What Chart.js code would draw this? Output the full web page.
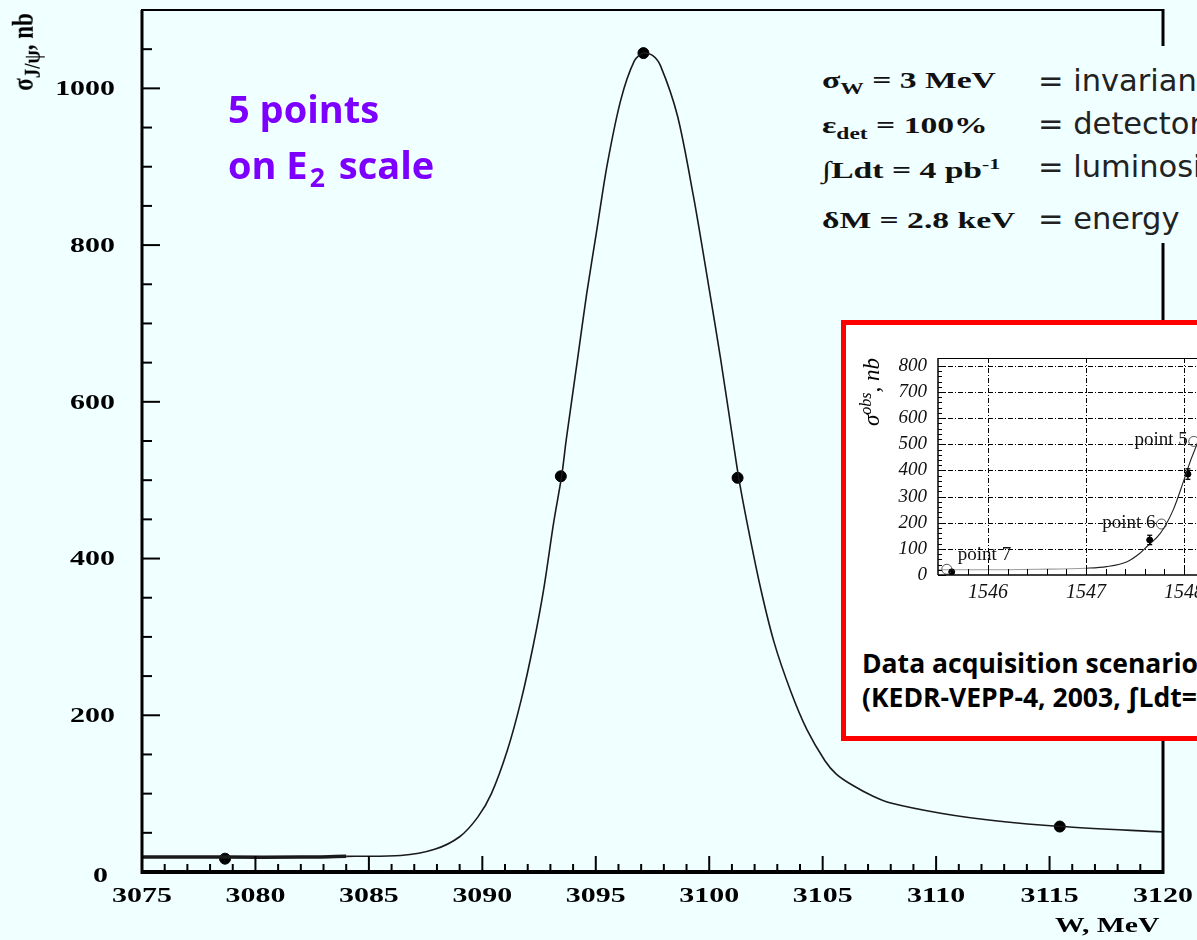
<!DOCTYPE html>
<html lang="en">
<head>
<meta charset="UTF-8" />
<style>
  html, body { margin: 0; padding: 0; }
  body { width: 1197px; height: 940px; overflow: hidden; position: relative; background: #f0ffff; }
  canvas { position: absolute; left: 0; top: 0; }
  sub, sup { line-height: 0; }
  #ytitle { position: absolute; left: -26px; top: 39px; width: 100px; height: 26px; line-height: 26px; text-align: center;
    font: bold 23px "Liberation Serif", serif; transform: rotate(-90deg) scaleY(1.25); white-space: nowrap; }
  #xtitle { position: absolute; left: 1055px; top: 912px; line-height: 26px; font: bold 22px "Liberation Serif", serif;
    transform: scaleX(1.35); transform-origin: left center; white-space: nowrap; }
  #purple { position: absolute; left: 228px; top: 80px; font: bold 38px "Open Sans", sans-serif; line-height: 56px; color: #7d00ff; }
  #purple sub { font-size: 0.7em; vertical-align: -0.3em; padding: 0 4px 0 2px; }
  #notes { position: absolute; left: 805px; top: 46px; width: 392px; height: 197px; background: #f0ffff; overflow: hidden; }
  .math { position: absolute; left: 17px; font: bold 24px "Liberation Serif", serif; line-height: 24px; color: #111;
    transform: scaleX(1.4); transform-origin: left center; white-space: nowrap; }
  .math sub { font-size: 0.7em; vertical-align: -0.35em; }
  .math sup { font-size: 0.65em; vertical-align: 0.55em; }
  .word { position: absolute; left: 233px; font: 30.5px "DejaVu Sans", sans-serif; line-height: 30px; color: #222; white-space: nowrap; }
  #inset { position: absolute; left: 841px; top: 320px; width: 600px; height: 421px; box-sizing: border-box;
    border: 5px solid #ff0000; background: #ffffff; }
  #inset canvas { left: 0; top: 0; }
  #itytle { position: absolute; left: -24px; top: 54px; width: 100px; height: 26px; line-height: 26px; text-align: center;
    font: italic 23px "Liberation Serif", serif; transform: rotate(-90deg); white-space: nowrap; }
  #itytle sup { font-size: 0.7em; vertical-align: 0.5em; }
  #caption { position: absolute; left: 16px; top: 321px; font: bold 26.5px "Open Sans", sans-serif; line-height: 34px; color: #000; white-space: nowrap; }
</style>
</head>
<body>
<canvas id="mainChart" width="1197" height="940"></canvas>

<div id="ytitle">σ<sub>J/ψ</sub>, nb</div>
<div id="xtitle">W, MeV</div>
<div id="purple">5 points<br>on E<sub>2</sub> scale</div>

<div id="notes">
  <div class="math" style="top:22px">σ<sub>W</sub> = 3 MeV</div>
  <div class="word" style="top:20px">= invariant</div>
  <div class="math" style="top:67px">ε<sub>det</sub> = 100%</div>
  <div class="word" style="top:63px">= detector</div>
  <div class="math" style="top:112px">∫Ldt = 4 pb<sup>-1</sup></div>
  <div class="word" style="top:106px">= luminosity</div>
  <div class="math" style="top:162px">δM = 2.8 keV</div>
  <div class="word" style="top:158px">= energy</div>
</div>

<div id="inset">
  <canvas id="insetChart" width="560" height="290"></canvas>
  <div id="itytle">σ<sup>obs</sup>, nb</div>
  <div id="caption">Data acquisition scenario<br>(KEDR-VEPP-4, 2003, ∫Ldt=</div>
</div>

<script src="https://cdn.jsdelivr.net/npm/chart.js@4.4.0/dist/chart.umd.min.js"></script>
<script>
  // main plot: smooth resonance curve (W in MeV, sigma in nb)
  var curveW = [3075, 3078.7, 3082, 3084, 3086.4, 3087.9, 3089.0, 3089.8, 3090.4, 3091.1, 3091.7, 3092.25, 3092.7, 3093.15,
    3093.5, 3093.7, 3094.2, 3094.6, 3095.05, 3095.5, 3096.1, 3096.7, 3097.1, 3097.5, 3097.85, 3098.6, 3099.3, 3099.9,
    3100.5, 3101.05, 3101.3, 3101.7, 3102.25, 3102.85, 3103.6, 3104.3, 3105.1, 3105.6, 3106.3, 3107.2, 3108.0, 3110.2,
    3112.7, 3115.5, 3120];
  var curveSigma = [19, 19, 19, 20, 21, 29, 45, 70, 100, 155, 218, 290, 360, 447,
    506, 552, 655, 738, 820, 902, 985, 1035, 1045, 1042, 1029, 965, 863, 761,
    655, 550, 503, 441, 364, 294, 230, 182, 142, 125, 111, 97, 88, 75,
    65, 58, 51];

  // the 5 scan points
  var scanW = [3078.66, 3093.46, 3097.1, 3101.25, 3115.45];
  var scanSigma = [17, 505, 1045, 503, 58];

  var xTickLabels = ["3075", "3080", "3085", "3090", "3095", "3100", "3105", "3110", "3115", "3120"];
  var yTickLabels = ["0", "200", "400", "600", "800", "1000"];

  // inset (KEDR data, E in MeV)
  var insetCurveE = [1545.49, 1546, 1546.5, 1547, 1547.21, 1547.42, 1547.55, 1547.62, 1547.76, 1547.89, 1548.0, 1548.07, 1548.13, 1548.16];
  var insetCurveSigma = [20, 20, 22, 26, 32, 51, 83, 108, 160, 249, 364, 441, 498, 530];
  var insetOpenE = [1545.58, 1547.77, 1548.1];
  var insetOpenSigma = [22, 195, 511];
  var insetOpenNames = ["point 7", "point 6", "point 5"];
  var insetMeasE = [1545.63, 1547.65, 1548.04];
  var insetMeasSigma = [12, 134, 386];
  var insetMeasErr = [8, 18, 20];
  var insetXTickLabels = ["1546", "1547", "1548", "1549"];
  var insetYTickLabels = ["0", "100", "200", "300", "400", "500", "600", "700", "800"];

  function pts(xs, ys) {
    return xs.map(function (v, i) { return { x: v, y: ys[i] }; });
  }
  function line(ctx, x1, y1, x2, y2) {
    ctx.beginPath(); ctx.moveTo(x1, y1); ctx.lineTo(x2, y2); ctx.stroke();
  }

  // frame, inward ticks and stretched serif labels, like the ROOT original
  var mainFrame = {
    id: "mainFrame",
    afterDraw: function (chart) {
      var ctx = chart.ctx, a = chart.chartArea, x = chart.scales.x, y = chart.scales.y;
      ctx.save();
      ctx.strokeStyle = "#000";
      ctx.lineWidth = 2;
      y.ticks.forEach(function (t) {
        if (t.value % 50 !== 0) return;
        var py = y.getPixelForValue(t.value);
        line(ctx, a.left, py, a.left + (t.value % 200 === 0 ? 18 : 10), py);
      });
      x.ticks.forEach(function (t) {
        if (Math.abs(t.value - Math.round(t.value)) > 1e-6) return;
        var px = x.getPixelForValue(t.value);
        line(ctx, px, a.bottom, px, a.bottom - (Math.round(t.value) % 5 === 0 ? 16 : 8));
      });
      ctx.lineWidth = 2;
      line(ctx, a.left - 1, a.top, a.right + 1, a.top);
      ctx.lineWidth = 3;
      line(ctx, a.left, a.top, a.left, a.bottom + 2);
      line(ctx, a.right, a.top - 1, a.right, a.bottom + 2);
      ctx.lineWidth = 4;
      line(ctx, a.left - 1, a.bottom, a.right + 1, a.bottom);

      ctx.fillStyle = "#000";
      ctx.font = 'bold 22px "Liberation Serif"';
      ctx.textBaseline = "middle";
      yTickLabels.forEach(function (l) {
        var v = Number(l);
        ctx.save();
        // the ROOT original prints the zero label a bit lower and further left
        ctx.translate(a.left - (v === 0 ? 34 : 27), y.getPixelForValue(v) + (v === 0 ? 4 : 1));
        ctx.scale(1.36, 1);
        ctx.textAlign = "right";
        ctx.fillText(l, 0, 0);
        ctx.restore();
      });
      xTickLabels.forEach(function (l) {
        ctx.save();
        ctx.translate(x.getPixelForValue(Number(l)), a.bottom + 24);
        ctx.scale(1.36, 1);
        ctx.textAlign = "center";
        ctx.fillText(l, 0, 0);
        ctx.restore();
      });
      ctx.restore();
    }
  };

  new Chart(document.getElementById("mainChart"), {
    type: "line",
    data: {
      datasets: [
        {
          data: pts(curveW, curveSigma),
          borderColor: "#1a1a1a",
          borderWidth: 1.6,
          pointRadius: 0,
          tension: 0.3,
          segment: { borderWidth: function (c) { return c.p1.parsed.x <= 3084 ? 3.5 : 1.6; } }
        },
        {
          data: pts(scanW, scanSigma),
          showLine: false,
          pointRadius: 5.5,
          pointBackgroundColor: "#000",
          pointBorderColor: "#000"
        }
      ]
    },
    options: {
      responsive: false,
      animation: false,
      devicePixelRatio: 1,
      layout: { padding: { left: 0, top: 10, right: 34, bottom: 0 } },
      plugins: { legend: { display: false }, tooltip: { enabled: false } },
      scales: {
        x: {
          type: "linear", min: 3075, max: 3120,
          ticks: { display: false, stepSize: 1 },
          grid: { display: false }, border: { display: false },
          afterFit: function (s) { s.height = 68; }
        },
        y: {
          type: "linear", min: 0, max: 1100,
          ticks: { display: false, stepSize: 50 },
          grid: { display: false }, border: { display: false },
          afterFit: function (s) { s.width = 142; }
        }
      }
    },
    plugins: [mainFrame]
  });

  // inset: dash-dot grid, frame, ticks, labels, error bars
  var insetFrame = {
    id: "insetFrame",
    beforeDatasetsDraw: function (chart) {
      var ctx = chart.ctx, a = chart.chartArea, x = chart.scales.x, y = chart.scales.y;
      ctx.save();
      ctx.strokeStyle = "#000";
      ctx.lineWidth = 1;
      ctx.setLineDash([5, 2, 1, 2]);
      insetYTickLabels.forEach(function (l) {
        if (Number(l) === 0) return;
        var py = Math.round(y.getPixelForValue(Number(l))) + 0.5;
        line(ctx, a.left, py, a.right, py);
      });
      insetXTickLabels.forEach(function (l) {
        var px = Math.round(x.getPixelForValue(Number(l))) + 0.5;
        line(ctx, px, a.top, px, a.bottom);
      });
      ctx.restore();
    },
    afterDatasetsDraw: function (chart) {
      var ctx = chart.ctx, x = chart.scales.x, y = chart.scales.y;
      ctx.save();
      ctx.strokeStyle = "#000";
      ctx.lineWidth = 1.3;
      insetMeasE.forEach(function (e, i) {
        var px = x.getPixelForValue(e);
        var lo = y.getPixelForValue(insetMeasSigma[i] - insetMeasErr[i]);
        var hi = y.getPixelForValue(insetMeasSigma[i] + insetMeasErr[i]);
        line(ctx, px, lo, px, hi);
        line(ctx, px - 2.5, lo, px + 2.5, lo);
        line(ctx, px - 2.5, hi, px + 2.5, hi);
      });
      ctx.restore();
    },
    afterDraw: function (chart) {
      var ctx = chart.ctx, a = chart.chartArea, x = chart.scales.x, y = chart.scales.y;
      ctx.save();
      ctx.strokeStyle = "#000";
      ctx.lineWidth = 1;
      y.ticks.forEach(function (t) {
        if (Math.abs(t.value / 20 - Math.round(t.value / 20)) > 1e-6) return;
        var py = Math.round(y.getPixelForValue(t.value)) + 0.5;
        line(ctx, a.left, py, a.left + (Math.round(t.value) % 100 === 0 ? 8 : 4), py);
      });
      x.ticks.forEach(function (t) {
        if (Math.abs(t.value * 5 - Math.round(t.value * 5)) > 1e-6) return;
        var px = Math.round(x.getPixelForValue(t.value)) + 0.5;
        line(ctx, px, a.bottom, px, a.bottom - (Math.abs(t.value - Math.round(t.value)) < 1e-6 ? 10 : 6));
      });
      line(ctx, a.left, a.top + 0.5, a.right, a.top + 0.5);
      ctx.lineWidth = 1.5;
      line(ctx, a.left, a.top, a.left, a.bottom);
      line(ctx, a.left, a.bottom, a.right, a.bottom);

      ctx.fillStyle = "#111";
      ctx.textBaseline = "middle";
      ctx.font = 'italic 19px "Liberation Serif"';
      ctx.textAlign = "right";
      insetYTickLabels.forEach(function (l) {
        ctx.fillText(l, a.left - 11, y.getPixelForValue(Number(l)));
      });
      ctx.font = 'italic 20px "Liberation Serif"';
      ctx.textAlign = "center";
      insetXTickLabels.forEach(function (l) {
        ctx.fillText(l, x.getPixelForValue(Number(l)), a.bottom + 18);
      });

      ctx.font = '19px "Liberation Serif"';
      ctx.textBaseline = "alphabetic";
      insetOpenNames.forEach(function (n, i) {
        var px = x.getPixelForValue(insetOpenE[i]);
        var py = y.getPixelForValue(insetOpenSigma[i]);
        if (px < a.left + 40) {
          ctx.textAlign = "left";
          ctx.fillText(n, px + 11, py - 9);
        } else {
          ctx.textAlign = "right";
          ctx.fillText(n, px - 6, py + 4);
        }
      });
      ctx.restore();
    }
  };

  new Chart(document.getElementById("insetChart"), {
    type: "line",
    data: {
      datasets: [
        {
          data: pts(insetCurveE, insetCurveSigma),
          borderColor: "#222",
          borderWidth: 1.1,
          pointRadius: 0,
          cubicInterpolationMode: "monotone",
          segment: { borderColor: function (c) { return c.p1.parsed.x <= 1547 ? "#9a9a9a" : "#222"; } }
        },
        {
          data: pts(insetOpenE, insetOpenSigma),
          showLine: false,
          pointRadius: 5,
          pointBorderWidth: 1,
          pointBorderColor: "#555",
          pointBackgroundColor: "rgba(0,0,0,0)"
        },
        {
          data: pts(insetMeasE, insetMeasSigma),
          showLine: false,
          pointRadius: 3,
          pointBackgroundColor: "#000",
          pointBorderColor: "#000"
        }
      ]
    },
    options: {
      responsive: false,
      animation: false,
      devicePixelRatio: 1,
      layout: { padding: { left: 0, top: 33, right: 75, bottom: 0 } },
      plugins: { legend: { display: false }, tooltip: { enabled: false } },
      scales: {
        x: {
          type: "linear", min: 1545.49, max: 1549.5,
          ticks: { display: false, stepSize: 0.2 },
          grid: { display: false }, border: { display: false },
          afterFit: function (s) { s.height = 40; }
        },
        y: {
          type: "linear", min: 0, max: 830,
          ticks: { display: false, stepSize: 20 },
          grid: { display: false }, border: { display: false },
          afterFit: function (s) { s.width = 92; }
        }
      }
    },
    plugins: [insetFrame]
  });
</script>
</body>
</html>
